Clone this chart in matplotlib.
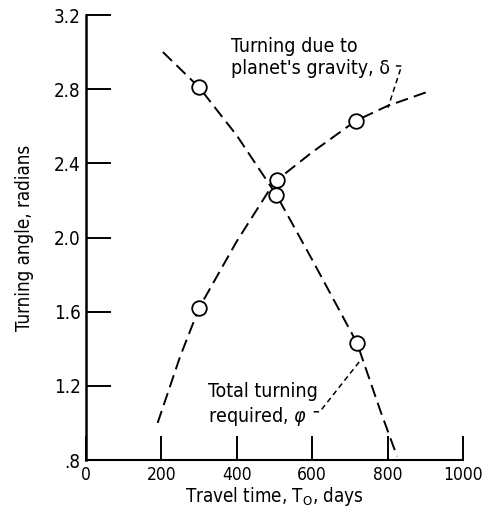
import matplotlib
matplotlib.use("Agg")
import matplotlib.pyplot as plt

plt.rcParams['font.family'] = ['DejaVu Sans']
plt.rcParams['font.stretch'] = 'condensed'

# Curve data
delta_x = [190, 250, 300, 400, 500, 600, 716, 800, 912]
delta_y = [1.00, 1.36, 1.62, 1.98, 2.30, 2.46, 2.63, 2.71, 2.79]
delta_pts_x = [300, 507, 716]
delta_pts_y = [1.62, 2.31, 2.63]

phi_x = [204, 300, 400, 505, 600, 719, 780, 825]
phi_y = [3.00, 2.81, 2.55, 2.23, 1.88, 1.43, 1.07, 0.82]
phi_pts_x = [300, 505, 719]
phi_pts_y = [2.81, 2.23, 1.43]

xticks = [0, 200, 400, 600, 800, 1000]
xticklabels = ['0', '200', '400', '600', '800', '1000']
yticks = [0.8, 1.2, 1.6, 2.0, 2.4, 2.8, 3.2]
yticklabels = ['.8', '1.2', '1.6', '2.0', '2.4', '2.8', '3.2']

fig = plt.figure(figsize=(4.85, 5.15), dpi=100)
ax = fig.add_axes([86/485, 1 - 460/515, (463 - 86)/485, (460 - 15)/515])

dash = (0, (6.5, 3.2))
ax.plot(delta_x, delta_y, color='black', lw=1.4, linestyle=dash, clip_on=False)
ax.plot(phi_x, phi_y, color='black', lw=1.4, linestyle=dash, clip_on=False)
ax.plot(delta_pts_x, delta_pts_y, 'o', ms=10.5, mfc='white', mec='black', mew=1.3, zorder=5)
ax.plot(phi_pts_x, phi_pts_y, 'o', ms=10.5, mfc='white', mec='black', mew=1.3, zorder=5)

# Leader lines
leader = (0, (3.5, 2.5))
ax.plot([822, 837, 801], [2.925, 2.925, 2.70], color='black', lw=1.1, linestyle=leader)
ax.plot([604, 620, 729], [1.06, 1.06, 1.34], color='black', lw=1.1, linestyle=leader)

ax.text(385, 3.08, "Turning due to\nplanet's gravity, δ", fontsize=14,
        ha='left', va='top', linespacing=1.2)
ax.text(324, 1.22, "Total turning\nrequired, $\\varphi$", fontsize=14,
        ha='left', va='top', linespacing=1.2)

ax.set_xlim(0, 1000)
ax.set_ylim(0.8, 3.2)
ax.set_xticks(xticks)
ax.set_xticklabels(xticklabels)
ax.set_yticks(yticks)
ax.set_yticklabels(yticklabels)
ax.tick_params(axis='both', direction='in', labelsize=12.5, width=1.4, color='black')
ax.tick_params(axis='y', length=18, pad=4, labelsize=13.5)
ax.tick_params(axis='x', length=17, pad=4)

ax.spines['top'].set_visible(False)
ax.spines['right'].set_visible(False)
ax.spines['left'].set_linewidth(1.8)
ax.spines['bottom'].set_linewidth(1.5)

ax.set_xlabel("Travel time, $\\mathrm{T_O}$, days", fontsize=13.5, labelpad=1)
ax.set_ylabel("Turning angle, radians", fontsize=13.5, labelpad=14)

fig.savefig("out.png", dpi=100)
